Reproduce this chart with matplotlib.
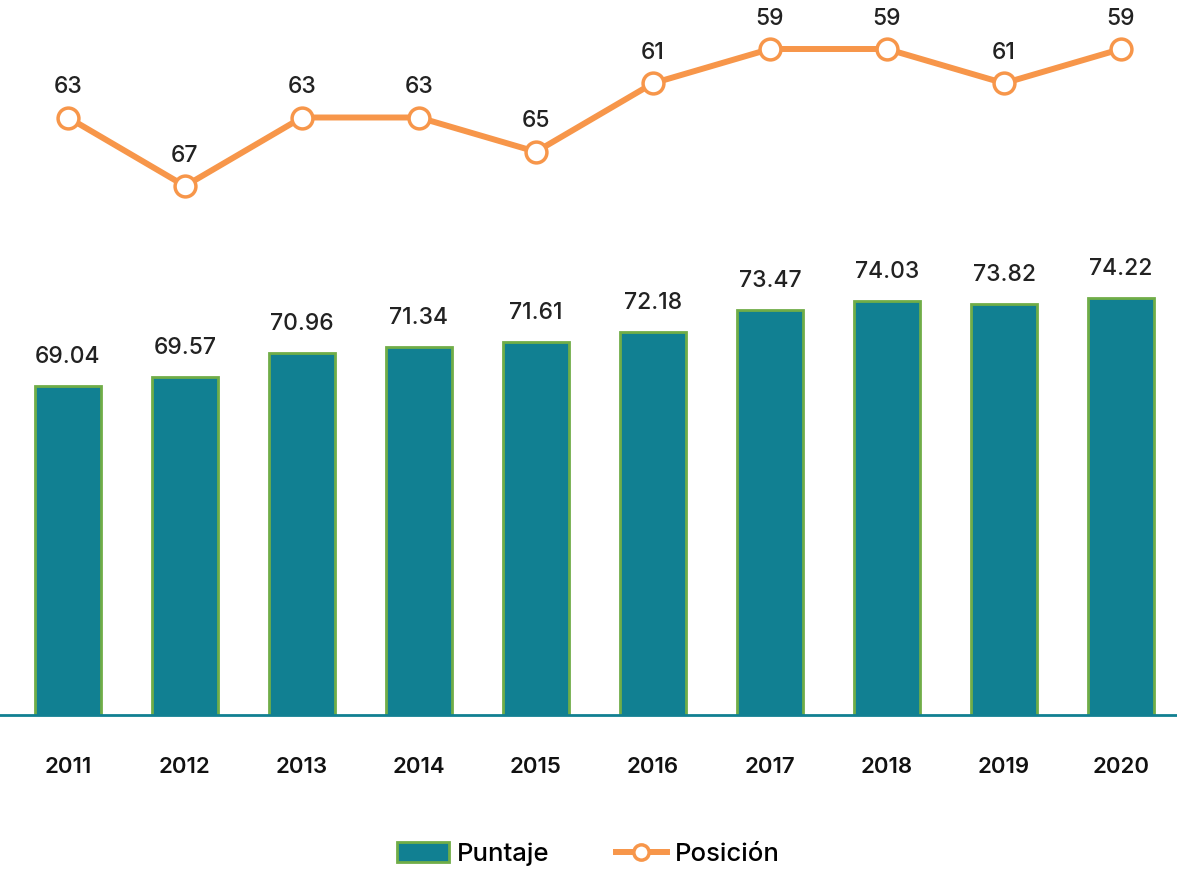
import matplotlib.pyplot as plt
from matplotlib.lines import Line2D
from matplotlib.patches import Patch

plt.rcParams['font.family'] = ['Inter', 'DejaVu Sans']

years = ['2011', '2012', '2013', '2014', '2015', '2016', '2017', '2018', '2019', '2020']
puntaje = [69.04, 69.57, 70.96, 71.34, 71.61, 72.18, 73.47, 74.03, 73.82, 74.22]
posicion = [63, 67, 63, 63, 65, 61, 59, 59, 61, 59]

TEAL = '#118092'
GREEN = '#70AD47'
ORANGE = '#F7964A'
W, H = 1177, 873
XLIM = (-68 / 117, 9 + 56 / 117)

fig = plt.figure(figsize=(W / 100, H / 100), dpi=100)

# bar axes: baseline at y=715 px, top at y=200 px
ax = fig.add_axes([0, (H - 715) / H, 1, 515 / H])
x = list(range(len(years)))
ax.bar(x, puntaje, width=0.56, color=TEAL, edgecolor=GREEN, linewidth=2, zorder=2)
ax.set_xlim(*XLIM)
ax.set_ylim(49.67, 49.67 + 515 / 17)
for i, v in enumerate(puntaje):
    ax.annotate('{:.2f}'.format(v), (i, v), xytext=(0, 13), textcoords='offset points',
                ha='center', va='bottom', fontsize=16.5, fontweight='medium',
                color='#222222')
for s in ['top', 'right', 'left']:
    ax.spines[s].set_visible(False)
ax.spines['bottom'].set_color(TEAL)
ax.spines['bottom'].set_linewidth(2)
ax.set_yticks([])
ax.set_xticks(x)
ax.set_xticklabels(years, fontsize=16, fontweight='semibold', color='#111111')
ax.tick_params(axis='x', length=0, pad=30)

# line axes on top, rank axis inverted
ax2 = fig.add_axes([0, (H - 220) / H, 1, 200 / H])
ax2.set_xlim(*XLIM)
ax2.set_ylim(67 + 34 / 17.125, 59 - 29 / 17.125)
ax2.plot(x, posicion, color=ORANGE, linewidth=4.3, marker='o', markersize=15,
         markerfacecolor='white', markeredgecolor=ORANGE, markeredgewidth=2.5,
         clip_on=False)
for i, v in enumerate(posicion):
    ax2.annotate(str(v), (i, v), xytext=(0, 14), textcoords='offset points',
                 ha='center', va='bottom', fontsize=16.5, fontweight='medium',
                 color='#222222')
ax2.axis('off')

handles = [Patch(facecolor=TEAL, edgecolor=GREEN, linewidth=2, label='Puntaje'),
           Line2D([0], [0], color=ORANGE, linewidth=4.3, marker='o', markersize=11,
                  markerfacecolor='white', markeredgecolor=ORANGE, markeredgewidth=2.5,
                  label='Posición')]
fig.legend(handles=handles, loc='center', bbox_to_anchor=(0.5, (H - 854) / H),
           ncol=2, frameon=False, prop={'size': 18.5, 'weight': 'medium'},
           handlelength=2.0, handleheight=0.8, columnspacing=2.6, handletextpad=0.3)

fig.savefig('out.png', dpi=100)
